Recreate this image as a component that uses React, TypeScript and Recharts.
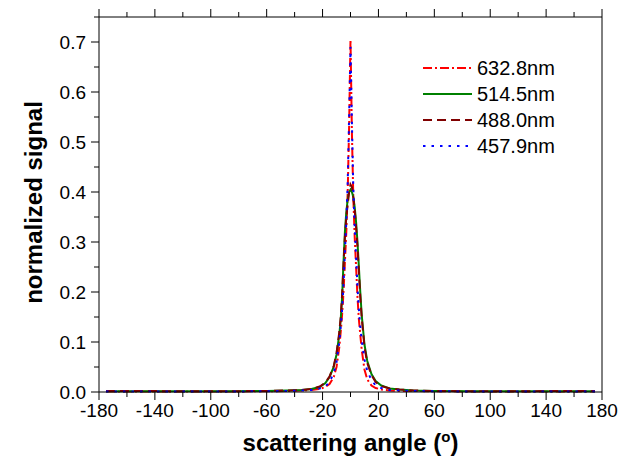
import React from 'react';
import { LineChart, Line, XAxis, YAxis, Legend } from 'recharts';

const angles = [-175, -150, -120, -90, -60, -45, -35, -28, -22, -18, -15, -12, -10, -8, -7, -6, -5, -4, -3, -2, -1, 0, 1, 2, 3, 4, 5, 6, 7, 8, 10, 12, 15, 18, 22, 28, 35, 45, 60, 90, 120, 150, 175];

const signal632 = [0.001, 0.001, 0.001, 0.001, 0.0015, 0.002, 0.003, 0.004, 0.006, 0.01, 0.016, 0.03, 0.05, 0.09, 0.12, 0.155, 0.2, 0.26, 0.32, 0.4, 0.53, 0.705, 0.52, 0.39, 0.31, 0.25, 0.19, 0.145, 0.115, 0.085, 0.045, 0.025, 0.013, 0.008, 0.005, 0.003, 0.002, 0.002, 0.0015, 0.001, 0.001, 0.001, 0.001];
const signal514 = [0.0015, 0.0015, 0.0015, 0.0015, 0.002, 0.003, 0.004, 0.006, 0.01, 0.018, 0.03, 0.05, 0.075, 0.115, 0.145, 0.19, 0.26, 0.32, 0.36, 0.385, 0.4, 0.405, 0.4, 0.39, 0.37, 0.34, 0.3, 0.25, 0.2, 0.155, 0.095, 0.062, 0.036, 0.022, 0.013, 0.007, 0.005, 0.003, 0.002, 0.0015, 0.0015, 0.0015, 0.0015];
const signal488 = [0.002, 0.002, 0.0015, 0.0015, 0.002, 0.003, 0.004, 0.006, 0.011, 0.019, 0.031, 0.052, 0.078, 0.12, 0.15, 0.195, 0.255, 0.31, 0.35, 0.375, 0.4, 0.415, 0.41, 0.39, 0.365, 0.33, 0.29, 0.24, 0.19, 0.15, 0.09, 0.058, 0.034, 0.02, 0.012, 0.007, 0.005, 0.003, 0.002, 0.0015, 0.0015, 0.002, 0.002];
const signal457 = [0.001, 0.001, 0.001, 0.001, 0.0015, 0.002, 0.003, 0.004, 0.007, 0.011, 0.02, 0.038, 0.06, 0.1, 0.13, 0.165, 0.215, 0.28, 0.34, 0.42, 0.55, 0.69, 0.54, 0.41, 0.33, 0.27, 0.21, 0.165, 0.13, 0.104, 0.065, 0.042, 0.024, 0.013, 0.008, 0.004, 0.003, 0.002, 0.0015, 0.001, 0.001, 0.001, 0.001];

const seriesNames = ['632.8nm', '514.5nm', '488.0nm', '457.9nm'];
const seriesKeys = ['s632', 's514', 's488', 's457'];
const seriesColors = ['#ff0000', '#008000', '#800000', '#0000ff'];
const seriesDash = ['9 3 2 3', '', '9 5', '2.5 6'];

const xMajorTicks = [-180, -140, -100, -60, -20, 20, 60, 100, 140, 180];
const xAllTicks = [-180, -160, -140, -120, -100, -80, -60, -40, -20, 0, 20, 40, 60, 80, 100, 120, 140, 160, 180];
const yMajorTicks = [0, 0.1, 0.2, 0.3, 0.4, 0.5, 0.6, 0.7];
const yAllTicks = [0, 0.05, 0.1, 0.15, 0.2, 0.25, 0.3, 0.35, 0.4, 0.45, 0.5, 0.55, 0.6, 0.65, 0.7, 0.75];

const data = angles.map((a, i) => ({
  angle: a,
  s632: signal632[i],
  s514: signal514[i],
  s488: signal488[i],
  s457: signal457[i],
}));

const FONT = '"Liberation Sans", Arial, sans-serif';
const MAJOR = 8;
const MINOR = 5;

const isMajorX = (v: number) => xMajorTicks.some((t) => Math.abs(t - v) < 1e-6);
const isMajorY = (v: number) => yMajorTicks.some((t) => Math.abs(t - v) < 1e-6);

const BottomTick = (props: any) => {
  const { x, y, payload } = props;
  const major = isMajorX(payload.value);
  return (
    <g>
      <line x1={x} x2={x} y1={y} y2={y + (major ? MAJOR : MINOR)} stroke="#000" strokeWidth={1} />
      {major && (
        <text x={x} y={y + 25} textAnchor="middle" fontSize={19} fontFamily={FONT} fill="#000">
          {payload.value}
        </text>
      )}
    </g>
  );
};

const TopTick = (props: any) => {
  const { x, y, payload } = props;
  const major = isMajorX(payload.value);
  return <line x1={x} x2={x} y1={y} y2={y - (major ? MAJOR : MINOR)} stroke="#000" strokeWidth={1} />;
};

const LeftTick = (props: any) => {
  const { x, y, payload } = props;
  const major = isMajorY(payload.value);
  return (
    <g>
      <line x1={x} x2={x - (major ? MAJOR : MINOR)} y1={y} y2={y} stroke="#000" strokeWidth={1} />
      {major && (
        <text x={x - 13} y={y} dy="0.36em" textAnchor="end" fontSize={19} fontFamily={FONT} fill="#000">
          {payload.value.toFixed(1)}
        </text>
      )}
    </g>
  );
};

const RightTick = (props: any) => {
  const { x, y, payload } = props;
  const major = isMajorY(payload.value);
  return <line x1={x} x2={x + (major ? MAJOR : MINOR)} y1={y} y2={y} stroke="#000" strokeWidth={1} />;
};

const XTitle = (props: any) => {
  const vb = props.viewBox || {};
  const cx = (vb.x || 0) + (vb.width || 0) / 2;
  const y = (vb.y || 0) + 59;
  return (
    <text x={cx} y={y} textAnchor="middle" fontSize={24} fontWeight="bold" fontFamily={FONT} fill="#000">
      <tspan>scattering angle (</tspan>
      <tspan dy={-9} fontSize={15}>o</tspan>
      <tspan dy={9}>)</tspan>
    </text>
  );
};

const YTitle = (props: any) => {
  const vb = props.viewBox || {};
  const cy = (vb.y || 0) + (vb.height || 0) / 2 - 2;
  const x = 42;
  return (
    <text
      x={x}
      y={cy}
      transform={`rotate(-90 ${x} ${cy})`}
      textAnchor="middle"
      fontSize={24}
      fontWeight="bold"
      fontFamily={FONT}
      fill="#000"
    >
      normalized signal
    </text>
  );
};

const LegendContent = () => (
  <div style={{ fontFamily: FONT, fontSize: 20, color: '#000' }}>
    {seriesNames.map((name, i) => (
      <div key={name} style={{ display: 'flex', alignItems: 'center', height: 26 }}>
        <svg width={53} height={6} style={{ display: 'block' }}>
          <line
            x1={3}
            x2={52}
            y1={3}
            y2={3}
            stroke={seriesColors[i]}
            strokeWidth={2}
            strokeDasharray={seriesDash[i] || undefined}
          />
        </svg>
        <span style={{ marginLeft: 4, lineHeight: '26px' }}>{name}</span>
      </div>
    ))}
  </div>
);

export default function App() {
  return (
    <div style={{ position: 'absolute', left: 0, top: 0, width: 622, height: 468, background: '#fff' }}>
      <LineChart width={622} height={468} data={data} margin={{ top: 16, right: 19, bottom: 75, left: 98 }}>
        <XAxis
          xAxisId={0}
          dataKey="angle"
          type="number"
          domain={[-180, 180]}
          ticks={xAllTicks}
          interval={0}
          height={1}
          tickSize={0}
          tickMargin={0}
          tickLine={false}
          axisLine={{ stroke: '#000', strokeWidth: 1 }}
          tick={<BottomTick />}
          label={<XTitle />}
        />
        <XAxis
          xAxisId="top"
          orientation="top"
          dataKey="angle"
          type="number"
          domain={[-180, 180]}
          ticks={xAllTicks}
          interval={0}
          height={1}
          tickSize={0}
          tickMargin={0}
          tickLine={false}
          axisLine={{ stroke: '#000', strokeWidth: 1 }}
          tick={<TopTick />}
        />
        <YAxis
          yAxisId={0}
          type="number"
          domain={[0, 0.75]}
          ticks={yAllTicks}
          interval={0}
          width={1}
          tickSize={0}
          tickMargin={0}
          tickLine={false}
          axisLine={{ stroke: '#000', strokeWidth: 1 }}
          tick={<LeftTick />}
          label={<YTitle />}
        />
        <YAxis
          yAxisId="right"
          orientation="right"
          type="number"
          domain={[0, 0.75]}
          ticks={yAllTicks}
          interval={0}
          width={1}
          tickSize={0}
          tickMargin={0}
          tickLine={false}
          axisLine={{ stroke: '#000', strokeWidth: 1 }}
          tick={<RightTick />}
        />
        {seriesKeys.map((k, i) => (
          <Line
            key={k}
            xAxisId={0}
            yAxisId={0}
            type="linear"
            dataKey={k}
            name={seriesNames[i]}
            stroke={seriesColors[i]}
            strokeWidth={2}
            strokeDasharray={seriesDash[i] || undefined}
            dot={false}
            activeDot={false}
            isAnimationActive={false}
          />
        ))}
        <Legend
          layout="vertical"
          align="center"
          verticalAlign="middle"
          content={<LegendContent />}
          wrapperStyle={{ position: 'absolute', left: 420, top: 55, width: 'auto' }}
        />
      </LineChart>
    </div>
  );
}
